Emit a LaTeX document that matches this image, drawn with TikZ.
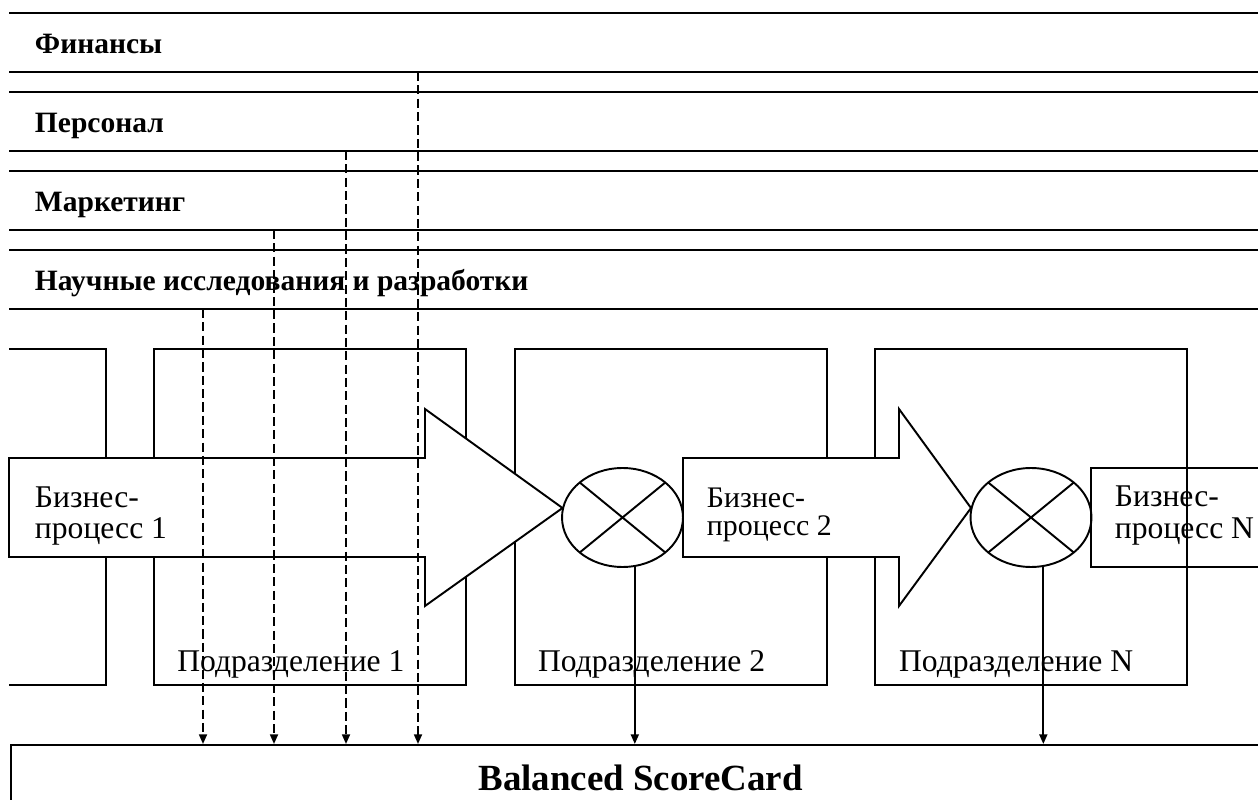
\documentclass[tikz,border=0pt]{standalone}
\usepackage{fontspec}
\setmainfont{Liberation Serif}
\usetikzlibrary{arrows.meta,shapes.geometric}

\begin{document}
\begin{tikzpicture}[x=0.02cm, y=-0.02cm, line width=1.1pt,
    lanename/.style={font=\fontsize{16.8}{20}\selectfont\bfseries, anchor=base west, inner sep=0pt},
    dept/.style={shape=rectangle, draw=black, minimum width=6.24cm, minimum height=6.72cm},
    deptname/.style={font=\fontsize{18}{20}\selectfont, anchor=base west, inner sep=0pt},
    bptext/.style={font=\fontsize{18}{17.6}\selectfont, anchor=north west, align=left, inner sep=0pt},
    blockarr/.style={draw=black, fill=white},
    mix/.style={shape=ellipse, draw=black, fill=white, inner sep=0pt, minimum width=2.42cm, minimum height=1.98cm,
        path picture={\draw (path picture bounding box.north west) -- (path picture bounding box.south east)
                            (path picture bounding box.south west) -- (path picture bounding box.north east);}},
    flow/.style={-{Triangle[length=5.5pt,width=4.5pt]}},
    dflow/.style={flow, dash pattern=on 5.2pt off 2.4pt}]
        \useasboundingbox (0, 0) rectangle (1258, 800);
        \clip (0, 0) rectangle (1258, 800);

        % lanes
        \draw (9, 13) -- (1258, 13);
        \draw (9, 72) -- (1258, 72);
        \draw (9, 92) -- (1258, 92);
        \draw (9, 151) -- (1258, 151);
        \draw (9, 171) -- (1258, 171);
        \draw (9, 230) -- (1258, 230);
        \draw (9, 250) -- (1258, 250);
        \draw (9, 309) -- (1258, 309);
        \node[lanename] (fin)  at (34, 54)     {Финансы};
        \node[lanename] (pers) at (34, 133)    {Персонал};
        \node[lanename] (mark) at (34, 212)    {Маркетинг};
        \node[lanename] (rnd)  at (34, 291)    {Научные исследования и разработки};
        \coordinate (finout)  at (418, 72);
        \coordinate (persout) at (346, 151);
        \coordinate (markout) at (274, 230);
        \coordinate (rndout)  at (203, 309);

        % departments
        \draw (9, 349) -- (106, 349) -- (106, 685) -- (9, 685);
        \node[dept] (dept1) at (310.25, 517)   {};
        \node[dept] (dept2) at (671, 517)      {};
        \node[dept] (deptN) at (1031, 517)     {};

        % business processes
        \draw[blockarr] (9, 458) -- (425, 458) -- (425, 409) -- (562.5, 508) -- (425, 606) -- (425, 557) -- (9, 557) -- cycle;
        \draw[blockarr] (683, 458) -- (899, 458) -- (899, 409) -- (971, 508) -- (899, 606) -- (899, 557) -- (683, 557) -- cycle;
        \node[bptext] (bp1) at (34, 486)      {Бизнес-\\процесс 1};
        \node[bptext, font=\fontsize{17}{16}\selectfont] (bp2) at (706, 487)     {Бизнес-\\процесс 2};
        \node[mix] (mix1) at (622.5, 517.5)    {};
        \node[mix] (mix2) at (1031, 517.5)     {};
        \node[shape=rectangle, draw=black, minimum width=3.6cm, minimum height=1.98cm] (bpNbox) at (1181, 517.5) {};
        \node[bptext, font=\fontsize{18}{18}\selectfont] (bpN) at (1114, 485)   {Бизнес-\\процесс N};

        \node[deptname] (dept1name) at ([xshift=0.46cm, yshift=0.28cm]dept1.south west) {Подразделение 1};
        \node[deptname] (dept2name) at ([xshift=0.46cm, yshift=0.28cm]dept2.south west) {Подразделение 2};
        \node[deptname] (deptNname) at ([xshift=0.48cm, yshift=0.28cm]deptN.south west) {Подразделение N};

        % scorecard
        \node[shape=rectangle, draw=black, minimum width=25.2cm, minimum height=1.5cm, text depth=0.18cm,
              font=\fontsize{21}{24}\selectfont\bfseries] (bsc) at (640.5, 782.5) {Balanced ScoreCard};

	\draw[dflow] (finout) -- (finout |- bsc.north);
	\draw[dflow] (persout) -- (persout |- bsc.north);
	\draw[dflow] (markout) -- (markout |- bsc.north);
	\draw[dflow] (rndout) -- (rndout |- bsc.north);
	\draw[flow] (mix1.-76) -- (mix1.-76 |- bsc.north);
	\draw[flow] (mix2.-76) -- (mix2.-76 |- bsc.north);
\end{tikzpicture}
\end{document}
